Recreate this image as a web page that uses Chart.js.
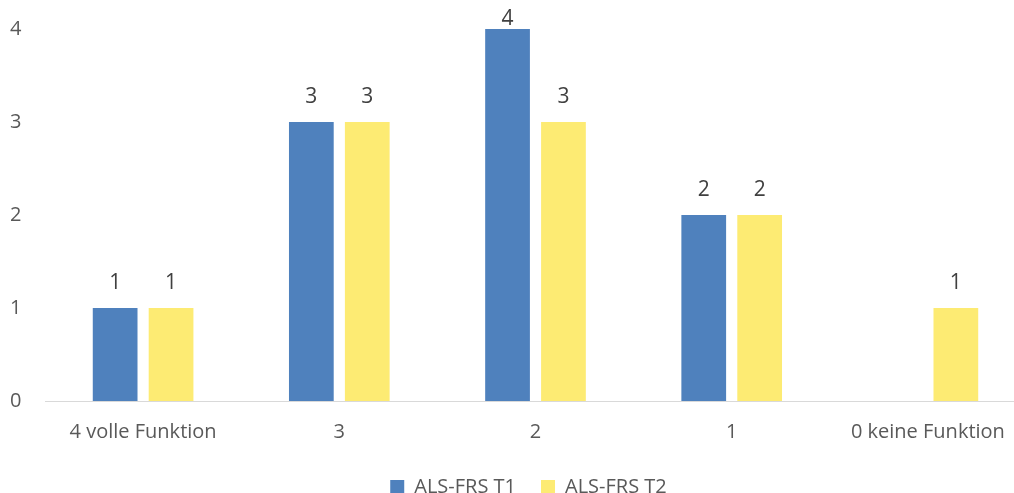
<!DOCTYPE html>
<html>
<head>
<meta charset="utf-8">
<script src="https://cdn.jsdelivr.net/npm/chart.js@4"></script>
<style>
  html, body { margin: 0; padding: 0; background: #fff; overflow: hidden; }
  #wrap { width: 1026px; height: 507px; }
</style>
</head>
<body>
<div id="wrap"><canvas id="chart"></canvas></div>
<script>
  // chart data
  var categories = ['4 volle Funktion', '3', '2', '1', '0 keine Funktion'];
  var seriesT1 = [1, 3, 4, 2, null];
  var seriesT2 = [1, 3, 3, 2, 1];
  var yTicks = [0, 1, 2, 3, 4];

  var FONT = '"Open Sans", sans-serif';
  var TEXT = '#595959';

  // value labels above each bar (kept inside the canvas like the original)
  var barLabels = {
    id: 'barLabels',
    afterDatasetsDraw: function (chart) {
      var ctx = chart.ctx;
      ctx.save();
      ctx.font = '21px ' + FONT;
      ctx.fillStyle = '#404040';
      ctx.textAlign = 'center';
      ctx.textBaseline = 'middle';
      chart.data.datasets.forEach(function (ds, i) {
        var meta = chart.getDatasetMeta(i);
        meta.data.forEach(function (bar, j) {
          if (ds.data[j] == null) return;
          ctx.fillText(String(ds.data[j]), bar.x, Math.max(bar.y - 25, 19));
        });
      });
      ctx.restore();
    }
  };

  // nudge the legend a little left of the plot centre
  var legendShift = {
    id: 'legendShift',
    beforeDraw: function (chart) {
      var lg = chart.legend;
      if (!lg) return;
      lg.left = chart.chartArea.left - 7;
      lg.right = chart.chartArea.right - 7;
    }
  };

  new Chart(document.getElementById('chart'), {
    type: 'bar',
    data: {
      labels: categories,
      datasets: [
        { label: 'ALS-FRS T1', data: seriesT1, backgroundColor: '#4f81bd',
          categoryPercentage: 0.57, barPercentage: 0.8 },
        { label: 'ALS-FRS T2', data: seriesT2, backgroundColor: '#fdeb73',
          categoryPercentage: 0.57, barPercentage: 0.8 }
      ]
    },
    options: {
      responsive: true,
      maintainAspectRatio: false,
      animation: false,
      layout: { padding: { top: 0, left: 10, right: 0, bottom: 0 } },
      plugins: {
        tooltip: { enabled: false },
        legend: {
          position: 'bottom',
          fullSize: false,
          labels: {
            color: TEXT,
            font: { family: FONT, size: 20 },
            boxWidth: 14,
            boxHeight: 14,
            padding: 25
          }
        }
      },
      scales: {
        x: {
          afterFit: function (scale) { scale.height -= 11; },
          grid: { display: false, drawTicks: false },
          border: { display: true, color: '#d9d9d9', width: 1 },
          ticks: { color: TEXT, font: { family: FONT, size: 20 }, padding: 19, maxRotation: 0 }
        },
        y: {
          min: 0,
          max: 4,
          afterFit: function (scale) { scale.width = 35; },
          afterBuildTicks: function (scale) {
            scale.ticks = yTicks.map(function (v) { return { value: v }; });
          },
          grid: { display: false, drawTicks: false },
          border: { display: false },
          ticks: { color: TEXT, font: { family: FONT, size: 20 }, padding: 17, crossAlign: 'far' }
        }
      }
    },
    plugins: [barLabels, legendShift]
  });
</script>
</body>
</html>
